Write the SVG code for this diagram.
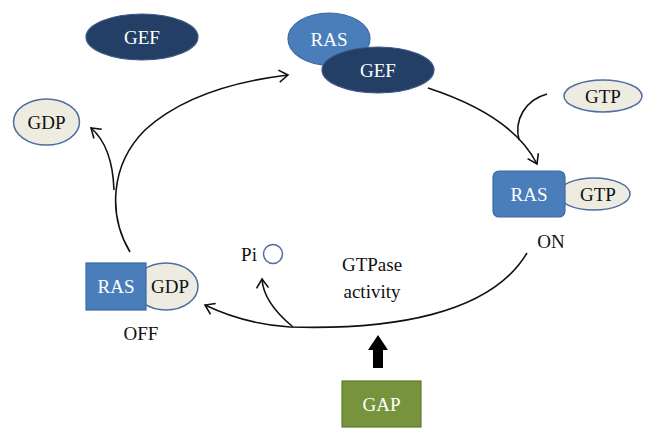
<svg xmlns="http://www.w3.org/2000/svg" width="658" height="441" viewBox="0 0 658 441">
<defs>
<style>
.t{font-family:"Liberation Serif","DejaVu Serif",serif;font-size:19px;text-anchor:middle}
.w{fill:#ffffff}
.k{fill:#111111}
.navy{fill:#243f66;stroke:#3b5a85;stroke-width:1.2}
.blue{fill:#4a7ebb;stroke:#3c6aa3;stroke-width:1.2}
.beige{fill:#eeece1;stroke:#4f6e9f;stroke-width:1.5}
.c{fill:none;stroke:#111111;stroke-width:1.6}
</style>
<marker id="ah" markerUnits="userSpaceOnUse" markerWidth="20" markerHeight="20" refX="0" refY="0" viewBox="-12 -10 14 20" orient="auto">
<path d="M -9 -6 L 0 0 L -9 6" fill="none" stroke="#111111" stroke-width="1.6"/>
</marker>
</defs>
<g id="connectors">
<path class="c" d="M 527 253 C 490 315, 390 330, 290 327 C 258 325, 230 317, 205 305" marker-end="url(#ah)"/>
<path class="c" d="M 293 327 C 276 313, 263 296, 262 279" marker-end="url(#ah)"/>
<path class="c" d="M 130 252 C 108 215, 110 165, 145 130 C 180 98, 230 82, 288 75" marker-end="url(#ah)"/>
<path class="c" d="M 114 190 C 113 162, 105 140, 91 128" marker-end="url(#ah)"/>
<path class="c" d="M 428 88 C 480 105, 520 130, 537 164" marker-end="url(#ah)"/>
<path class="c" d="M 547 94 C 525 100, 514 120, 519 140"/>
<path d="M 373 383 L 373 350 L 368 350 L 378 335 L 388 350 L 383 350 L 383 368 L 373 368 Z" fill="#000000"/>
</g>
<g id="gef-free">
<ellipse class="navy" cx="142" cy="37" rx="56" ry="23"/>
<text class="t w" x="142" y="44">GEF</text>
</g>
<g id="gdp-free">
<ellipse class="beige" cx="46.5" cy="122" rx="33" ry="23"/>
<text class="t k" x="46.5" y="129">GDP</text>
</g>
<g id="ras-gef">
<ellipse class="blue" cx="329" cy="39" rx="41" ry="26"/>
<text class="t w" x="329" y="46">RAS</text>
<ellipse class="navy" cx="378" cy="70" rx="56" ry="23"/>
<text class="t w" x="378" y="77">GEF</text>
</g>
<g id="gtp-free">
<ellipse class="beige" cx="603" cy="96" rx="39" ry="16"/>
<text class="t k" x="603" y="103">GTP</text>
</g>
<g id="ras-gtp">
<ellipse class="beige" cx="594" cy="194" rx="36" ry="16"/>
<rect class="blue" x="493" y="171" width="72" height="46" rx="6"/>
<text class="t w" x="529" y="201">RAS</text>
<text class="t k" x="598" y="201">GTP</text>
<text class="t k" x="551" y="248">ON</text>
</g>
<g id="ras-gdp">
<ellipse class="beige" cx="166" cy="286.5" rx="32" ry="23.5"/>
<rect class="blue" x="86" y="263" width="60" height="47"/>
<text class="t w" x="116" y="293">RAS</text>
<text class="t k" x="170" y="293">GDP</text>
<text class="t k" x="141" y="340">OFF</text>
</g>
<g id="pi">
<text class="t k" x="249" y="261">Pi</text>
<circle cx="273" cy="254" r="9.5" fill="#ffffff" stroke="#4f6e9f" stroke-width="1.5"/>
</g>
<g id="gtpase">
<text class="t k" x="372" y="271">GTPase</text>
<text class="t k" x="372" y="298">activity</text>
</g>
<g id="gap">
<rect x="342" y="381" width="79" height="46" fill="#77933c" stroke="#5f7a2e" stroke-width="1.2"/>
<text class="t w" x="381.5" y="411">GAP</text>
</g>
</svg>
